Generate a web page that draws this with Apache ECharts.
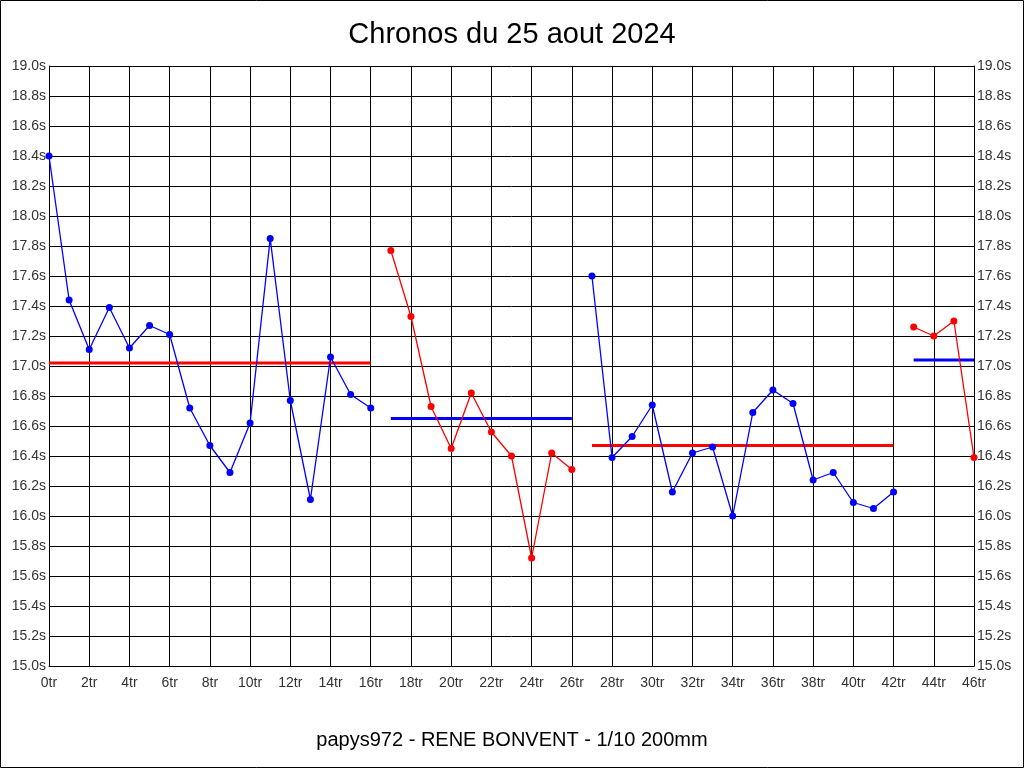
<!DOCTYPE html>
<html>
<head>
<meta charset="utf-8">
<script src="https://cdn.jsdelivr.net/npm/echarts@6/dist/echarts.min.js"></script>
<style>html,body{margin:0;padding:0;background:#fff}#c{width:1024px;height:768px}</style>
</head>
<body>
<div id="c"></div>
<script>
const titleText = "Chronos du 25 aout 2024";
const footerText = "papys972 - RENE BONVENT - 1/10 200mm";
// segments: lap numbers and times (s)
const seg1Laps = [0,1,2,3,4,5,6,7,8,9,10,11,12,13,14,15,16];
const seg1Times = [18.40,17.44,17.11,17.39,17.12,17.27,17.21,16.72,16.47,16.29,16.62,17.85,16.77,16.11,17.06,16.81,16.72];
const seg1Avg = 17.02;
const seg2Laps = [17,18,19,20,21,22,23,24,25,26];
const seg2Times = [17.77,17.33,16.73,16.45,16.82,16.56,16.40,15.72,16.42,16.31];
const seg2Avg = 16.65;
const seg3Laps = [27,28,29,30,31,32,33,34,35,36,37,38,39,40,41,42];
const seg3Times = [17.60,16.39,16.53,16.74,16.16,16.42,16.46,16.00,16.69,16.84,16.75,16.24,16.29,16.09,16.05,16.16];
const seg3Avg = 16.47;
const seg4Laps = [43,44,45,46];
const seg4Times = [17.26,17.20,17.30,16.39];
const seg4Avg = 17.04;

const segments = [
  {laps: seg1Laps, times: seg1Times, avg: seg1Avg, color: '#0000ff', avgColor: '#ff0000'},
  {laps: seg2Laps, times: seg2Times, avg: seg2Avg, color: '#ff0000', avgColor: '#0000ff'},
  {laps: seg3Laps, times: seg3Times, avg: seg3Avg, color: '#0000ff', avgColor: '#ff0000'},
  {laps: seg4Laps, times: seg4Times, avg: seg4Avg, color: '#ff0000', avgColor: '#0000ff'}
];

const series = [];
segments.forEach(s => {
  series.push({
    type: 'line',
    data: s.laps.map((l, i) => [l, s.times[i]]),
    symbol: 'circle', symbolSize: 7,
    lineStyle: {color: s.color, width: 1.3},
    itemStyle: {color: s.color},
    animation: false, z: 3
  });
  series.push({
    type: 'line',
    data: [[s.laps[0], s.avg], [s.laps[s.laps.length - 1], s.avg]],
    symbol: 'none',
    lineStyle: {color: s.avgColor, width: 3},
    animation: false, z: 2
  });
});

const font = '"Liberation Sans", Arial, sans-serif';
const yAxisBase = {
  type: 'value', min: 15, max: 19, interval: 0.2,
  axisLine: {show: true, lineStyle: {color: '#000'}},
  axisTick: {show: false},
  splitLine: {show: true, lineStyle: {color: '#000', width: 1}},
  axisLabel: {formatter: v => v.toFixed(1) + 's', color: '#333', fontSize: 14, fontFamily: font, margin: 3}
};

const chart = echarts.init(document.getElementById('c'), null, {renderer: 'canvas'});
chart.setOption({
  animation: false,
  backgroundColor: '#fff',
  title: [
    {text: titleText, left: 'center', top: 15, textStyle: {fontSize: 29, fontWeight: 'normal', color: '#000', fontFamily: font}},
    {text: footerText, left: 'center', top: 725, textStyle: {fontSize: 20, fontWeight: 'normal', color: '#000', fontFamily: font}}
  ],
  grid: {left: 49, right: 50, top: 66, bottom: 102, containLabel: false},
  xAxis: {
    type: 'value', min: 0, max: 46, interval: 2,
    axisLine: {show: true, lineStyle: {color: '#000'}},
    axisTick: {show: false},
    splitLine: {show: true, lineStyle: {color: '#000', width: 1}},
    axisLabel: {formatter: '{value}tr', color: '#333', fontSize: 14, fontFamily: font, margin: 10}
  },
  yAxis: [
    Object.assign({}, yAxisBase, {position: 'left'}),
    Object.assign({}, yAxisBase, {position: 'right', splitLine: {show: false}})
  ],
  graphic: [{
    type: 'rect', shape: {x: 0.5, y: 0.5, width: 1023, height: 767},
    style: {fill: 'none', stroke: '#000', lineWidth: 1}, z: 100
  }],
  series: series
});
</script>
</body>
</html>
